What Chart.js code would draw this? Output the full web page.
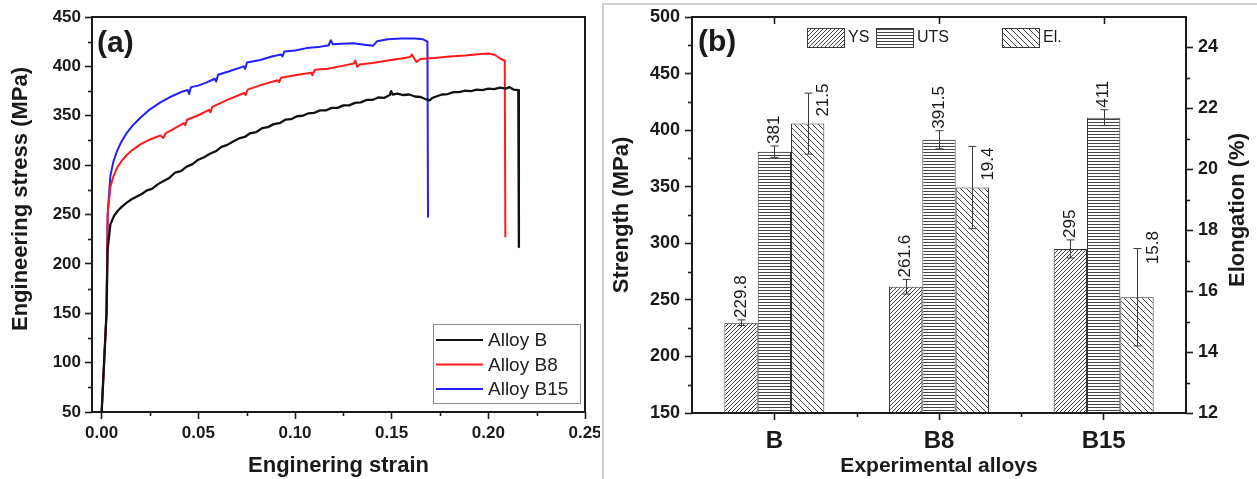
<!DOCTYPE html>
<html lang="en">
<head>
<meta charset="UTF-8">
<title>Tensile behaviour of alloys B, B8 and B15</title>
<script src="https://cdn.jsdelivr.net/npm/chart.js"></script>
<style>
  body { margin: 0; background: #fff; }
  #wrap { position: relative; width: 1257px; height: 479px; overflow: hidden; }
  #curves { position: absolute; left: 0; top: 0; }
  #bars { position: absolute; left: 604px; top: 0; }
  .rule-v { position: absolute; left: 602px; top: 3px; width: 2px; height: 476px; background: #d0d0d0; }
  .rule-h { position: absolute; left: 602px; top: 3px; width: 655px; height: 2px; background: #d0d0d0; }
</style>
</head>
<body>
<div id="wrap">
  <canvas id="curves" width="600" height="479"></canvas>
  <div class="rule-v"></div>
  <div class="rule-h"></div>
  <canvas id="bars" width="653" height="479"></canvas>
</div>
<script>
// (a) engineering stress-strain curves
const curveNames = ['Alloy B', 'Alloy B8', 'Alloy B15'];
const curveColors = ['#111111', '#ff1a1a', '#1f1fff'];

const strainB = [0, 0.0025, 0.0031, 0.0045, 0.0065, 0.0085, 0.0105, 0.013, 0.0155, 0.018, 0.021, 0.0235, 0.026,
  0.029, 0.032, 0.035, 0.038, 0.041, 0.044, 0.047, 0.050, 0.053, 0.056, 0.059, 0.062, 0.065, 0.068, 0.071, 0.074,
  0.077, 0.080, 0.083, 0.086, 0.089, 0.092, 0.095, 0.098, 0.101, 0.104, 0.107, 0.110, 0.113, 0.116, 0.119, 0.122,
  0.125, 0.128, 0.131, 0.134, 0.137, 0.140, 0.143, 0.146, 0.149, 0.1497, 0.1505, 0.153, 0.156, 0.159, 0.162, 0.165,
  0.168, 0.1696, 0.171, 0.173, 0.176, 0.179, 0.182, 0.185, 0.188, 0.191, 0.194, 0.197, 0.200, 0.203, 0.206, 0.209,
  0.211, 0.213, 0.2155, 0.2158];
const stressB = [50, 150, 215, 240, 249, 254, 258, 262, 265.5, 268, 271, 274.5, 276,
  280.5, 284, 287, 292.5, 294, 298.5, 301, 305.5, 308, 311.5, 314, 318.5, 320.5, 324, 327, 328.5,
  332.5, 333.5, 337.5, 338.5, 341.5, 342.5, 346, 346.5, 349.5, 350, 352.5, 353, 355.5, 355.5, 358, 358,
  360.5, 360.5, 363, 363.5, 366, 366, 368.5, 368, 371, 375, 371.5, 372.5, 371, 371.5, 369.5, 369,
  366.5, 365.5, 368, 369.5, 371.5, 372, 374, 374, 375.5, 375, 376.5, 376, 377.5, 377, 378.5, 377.5,
  379, 376.5, 376, 217];

const strainB8 = [0, 0.0025, 0.0031, 0.0045, 0.006, 0.0079, 0.010, 0.0131, 0.016, 0.02, 0.025, 0.0304, 0.0318,
  0.0332, 0.037, 0.0425, 0.0432, 0.0442, 0.050, 0.0555, 0.0562, 0.0572, 0.065, 0.0737, 0.0745, 0.0755, 0.083,
  0.091, 0.0918, 0.0928, 0.100, 0.1085, 0.109, 0.1102, 0.117, 0.1245, 0.1305, 0.1312, 0.1322, 0.1335, 0.140,
  0.148, 0.155, 0.1595, 0.1605, 0.1628, 0.165, 0.172, 0.18, 0.188, 0.196, 0.2005, 0.2035, 0.2065, 0.2085, 0.2088];
const stressB8 = [50, 150, 250, 278, 288, 297, 303.5, 310.5, 315.5, 321, 326, 330, 327.5,
  332.5, 336.5, 342.5, 340.5, 346, 350.5, 356, 353.5, 359, 366, 373, 371, 376.5, 381.5,
  386, 384, 388.5, 391, 393.5, 391, 396.5, 397.5, 400.5, 403, 406, 399.5, 402, 403.5,
  406, 408, 409.5, 412, 404.5, 407.5, 408.5, 410, 411, 412.5, 413, 411.5, 407.5, 406, 227];

const strainB15 = [0, 0.0025, 0.0031, 0.0045, 0.006, 0.0079, 0.010, 0.0131, 0.016, 0.02, 0.025, 0.0304, 0.036,
  0.041, 0.0445, 0.0452, 0.0462, 0.050, 0.054, 0.0585, 0.0592, 0.0602, 0.066, 0.0735, 0.0742, 0.0752, 0.082,
  0.088, 0.0928, 0.0935, 0.0945, 0.100, 0.106, 0.112, 0.1175, 0.1185, 0.1195, 0.124, 0.130, 0.136, 0.1405,
  0.1425, 0.148, 0.155, 0.162, 0.166, 0.1685, 0.1688];
const stressB15 = [50, 150, 250, 289, 303, 314, 323, 333, 340, 348, 356.5, 363.5, 369.5,
  374, 376, 372, 379, 380.5, 383.5, 387.5, 384.5, 391.5, 395, 400, 397.5, 404, 406.5,
  410, 412, 410, 415, 416, 418.5, 419.5, 421.5, 426.5, 422.5, 423, 423.5, 422, 421,
  425.5, 427.5, 428.2, 428.2, 427.5, 425, 247];

const strainTicks = [0, 0.05, 0.10, 0.15, 0.20, 0.25];

// (b) strength and elongation of the experimental alloys
const alloys = ['B', 'B8', 'B15'];
const propertyNames = ['YS', 'UTS', 'El.'];
const ysValues = [229.8, 261.6, 295];
const ysErrors = [2.5, 6.5, 8];
const utsValues = [381, 391.5, 411];
const utsErrors = [5, 8, 7];
const elValues = [21.5, 19.4, 15.8];
const elErrors = [1.0, 1.35, 1.6];
const elongationTicks = [12, 14, 16, 18, 20, 22, 24];

const inkColor = '#1a1a1a';
Chart.defaults.font.family = '"Liberation Sans", Arial, sans-serif';
Chart.defaults.color = inkColor;
Chart.defaults.animation = false;

function toPoints(xs, ys) {
  return xs.map((x, i) => ({ x: x, y: ys[i] }));
}

// white background with thin grey hatch lines
function hatch(dir, gap) {
  const c = document.createElement('canvas');
  c.width = c.height = gap;
  const g = c.getContext('2d');
  g.fillStyle = '#fff';
  g.fillRect(0, 0, gap, gap);
  g.strokeStyle = '#444';
  g.lineWidth = 1;
  g.beginPath();
  if (dir === '-') {
    g.moveTo(0, gap - 0.5); g.lineTo(gap, gap - 0.5);
  } else if (dir === '/') {
    g.moveTo(-1, gap + 1); g.lineTo(gap + 1, -1);
    g.moveTo(-1, 1); g.lineTo(1, -1);
    g.moveTo(gap - 1, gap + 1); g.lineTo(gap + 1, gap - 1);
  } else {
    g.moveTo(-1, -1); g.lineTo(gap + 1, gap + 1);
    g.moveTo(gap - 1, -1); g.lineTo(gap + 1, 1);
    g.moveTo(-1, gap - 1); g.lineTo(1, gap + 1);
  }
  g.stroke();
  return g.createPattern(c, 'repeat');
}

// box around the plot, minor ticks between labelled ticks, optional ticks on the top edge
const frameTicks = {
  id: 'frameTicks',
  afterDraw(chart, args, opts) {
    const { ctx, chartArea: a } = chart;
    ctx.save();
    ctx.strokeStyle = inkColor;
    ctx.lineWidth = 1.6;
    (opts.minor || []).forEach(id => {
      const s = chart.scales[id];
      const t = s.ticks;
      for (let i = 0; i + 1 < t.length; i++) {
        const p = Math.round(s.getPixelForValue((t[i].value + t[i + 1].value) / 2)) + 0.5;
        ctx.beginPath();
        if (s.position === 'left') { ctx.moveTo(a.left, p); ctx.lineTo(a.left - 4, p); }
        else if (s.position === 'right') { ctx.moveTo(a.right, p); ctx.lineTo(a.right + 4, p); }
        else { ctx.moveTo(p, a.bottom); ctx.lineTo(p, a.bottom + 4); }
        ctx.stroke();
      }
    });
    if (opts.topTicks) {
      const s = chart.scales.x;
      s.ticks.forEach(t => {
        const p = Math.round(s.getPixelForValue(t.value)) + 0.5;
        ctx.beginPath(); ctx.moveTo(p, a.top); ctx.lineTo(p, a.top + 7); ctx.stroke();
      });
    }
    ctx.lineWidth = 2;
    ctx.strokeRect(a.left, a.top, a.right - a.left, a.bottom - a.top);
    ctx.restore();
  }
};

// free text: panel letter and rotated titles
const panelText = {
  id: 'panelText',
  afterDraw(chart, args, opts) {
    const { ctx } = chart;
    (opts.items || []).forEach(it => {
      ctx.save();
      ctx.font = it.font;
      ctx.fillStyle = inkColor;
      ctx.textAlign = it.rotate ? 'center' : 'left';
      ctx.textBaseline = 'middle';
      ctx.translate(it.x, it.y);
      if (it.rotate) ctx.rotate(-Math.PI / 2);
      ctx.fillText(it.text, 0, 0);
      ctx.restore();
    });
  }
};

// boxed key with line samples for the curves
const lineKey = {
  id: 'lineKey',
  afterDraw(chart, args, o) {
    const { ctx } = chart;
    ctx.save();
    ctx.strokeStyle = '#8c8c8c';
    ctx.lineWidth = 1;
    ctx.strokeRect(o.x + 0.5, o.y + 0.5, o.w, o.h);
    ctx.font = '19px "Liberation Sans", Arial, sans-serif';
    ctx.textBaseline = 'middle';
    ctx.fillStyle = '#222';
    chart.data.datasets.forEach((ds, i) => {
      const y = o.y + o.first + i * o.step;
      ctx.strokeStyle = ds.borderColor;
      ctx.lineWidth = 2;
      ctx.beginPath(); ctx.moveTo(o.x + 3, y); ctx.lineTo(o.x + 50, y); ctx.stroke();
      ctx.fillText(ds.label, o.x + 55, y + 1);
    });
    ctx.restore();
  }
};

new Chart(document.getElementById('curves'), {
  type: 'scatter',
  data: {
    datasets: [
      { label: curveNames[0], data: toPoints(strainB, stressB), borderColor: curveColors[0], borderWidth: 2.3 },
      { label: curveNames[1], data: toPoints(strainB8, stressB8), borderColor: curveColors[1], borderWidth: 2 },
      { label: curveNames[2], data: toPoints(strainB15, stressB15), borderColor: curveColors[2], borderWidth: 2 }
    ].map(ds => Object.assign(ds, { showLine: true, pointRadius: 0, tension: 0, borderJoinStyle: 'round' }))
  },
  options: {
    responsive: false,
    layout: { padding: { top: 17, right: 15, left: 0, bottom: 0 } },
    plugins: {
      legend: { display: false },
      tooltip: { enabled: false },
      frameTicks: { minor: ['x', 'y'] },
      lineKey: { x: 433, y: 324, w: 147, h: 79, first: 16, step: 24.5 },
      panelText: {
        items: [
          { text: '(a)', x: 97, y: 44, font: 'bold 30px "Liberation Sans", Arial, sans-serif' },
          { text: 'Engineering stress (MPa)', x: 21, y: 199, rotate: true, font: 'bold 22px "Liberation Sans", Arial, sans-serif' }
        ]
      }
    },
    scales: {
      x: {
        type: 'linear',
        min: -0.005,
        max: 0.25,
        afterBuildTicks: s => { s.ticks = strainTicks.map(v => ({ value: v })); },
        afterFit: s => { s.height = 67; s.paddingLeft = 0; s.paddingRight = 0; },
        border: { display: false },
        grid: { drawOnChartArea: false, tickLength: 7, tickColor: inkColor, tickWidth: 1.6 },
        ticks: { font: { size: 17, weight: 'bold' }, padding: 4, maxRotation: 0, callback: v => v.toFixed(2) },
        title: { display: true, text: 'Enginering strain', font: { size: 22, weight: 'bold' }, padding: { top: 0, bottom: 0 } }
      },
      y: {
        min: 50,
        max: 450,
        afterFit: s => { s.width = 92; s.paddingTop = 0; s.paddingBottom = 0; },
        border: { display: false },
        grid: { drawOnChartArea: false, tickLength: 7, tickColor: inkColor, tickWidth: 1.6 },
        ticks: { stepSize: 50, font: { size: 17, weight: 'bold' }, padding: 4 }
      }
    }
  },
  plugins: [frameTicks, lineKey, panelText]
});

// error bars and rotated value labels on the bars
const errorSets = [ysErrors, utsErrors, elErrors];
const barValues = {
  id: 'barValues',
  afterDatasetsDraw(chart, args, o) {
    const { ctx } = chart;
    ctx.save();
    chart.data.datasets.forEach((ds, i) => {
      const meta = chart.getDatasetMeta(i);
      const scale = chart.scales[meta.yAxisID];
      const shift = o.shift[i];
      meta.data.forEach((bar, j) => {
        const v = ds.data[j];
        const e = errorSets[i][j];
        const x = Math.round(bar.x) + 0.5;
        const hi = scale.getPixelForValue(v + e);
        const lo = scale.getPixelForValue(v - e);
        ctx.strokeStyle = '#3a3a3a';
        ctx.lineWidth = 1;
        ctx.beginPath();
        ctx.moveTo(x, hi); ctx.lineTo(x, lo);
        ctx.moveTo(x - 4, hi); ctx.lineTo(x + 4, hi);
        ctx.moveTo(x - 4, lo); ctx.lineTo(x + 4, lo);
        ctx.stroke();

        const lx = shift ? bar.x + shift.dx : bar.x;
        const ly = shift ? bar.y - shift.lift[j] : hi - 2;
        ctx.save();
        ctx.font = '17px "Liberation Sans", Arial, sans-serif';
        ctx.fillStyle = inkColor;
        ctx.textAlign = 'left';
        ctx.textBaseline = 'middle';
        ctx.translate(lx, ly);
        ctx.rotate(-Math.PI / 2);
        ctx.fillText(String(v), 0, 0);
        ctx.restore();
      });
    });
    ctx.restore();
  }
};

// row of hatched swatches across the top of the bar plot
const swatchKey = {
  id: 'swatchKey',
  afterDraw(chart, args, o) {
    const { ctx, chartArea: a } = chart;
    ctx.save();
    ctx.font = '16px "Liberation Sans", Arial, sans-serif';
    ctx.textBaseline = 'middle';
    chart.data.datasets.forEach((ds, i) => {
      const x = a.left + o.offsets[i];
      const y = a.top + o.top;
      ctx.fillStyle = ds.backgroundColor;
      ctx.fillRect(x, y, 37, 19);
      ctx.strokeStyle = '#3a3a3a';
      ctx.lineWidth = 1;
      ctx.strokeRect(x + 0.5, y + 0.5, 37, 19);
      ctx.fillStyle = inkColor;
      ctx.fillText(ds.label, x + 41, y + 10);
    });
    ctx.restore();
  }
};

const barStyle = { borderColor: '#333', borderWidth: 1, categoryPercentage: 0.607, barPercentage: 1 };

new Chart(document.getElementById('bars'), {
  type: 'bar',
  data: {
    labels: alloys,
    datasets: [
      Object.assign({ label: propertyNames[0], data: ysValues, backgroundColor: hatch('/', 4), yAxisID: 'y' }, barStyle),
      Object.assign({ label: propertyNames[1], data: utsValues, backgroundColor: hatch('-', 3), yAxisID: 'y' }, barStyle),
      Object.assign({ label: propertyNames[2], data: elValues, backgroundColor: hatch('\\', 6), yAxisID: 'y1' }, barStyle)
    ]
  },
  options: {
    responsive: false,
    layout: { padding: { top: 17, right: 0, left: 0, bottom: 0 } },
    plugins: {
      legend: { display: false },
      tooltip: { enabled: false },
      frameTicks: { minor: ['x', 'y', 'y1'], topTicks: true },
      barValues: { shift: [null, null, { dx: 16, lift: [7, 7, 33] }] },
      swatchKey: { offsets: [115, 184, 310], top: 11 },
      panelText: {
        items: [
          { text: '(b)', x: 94, y: 43, font: 'bold 30px "Liberation Sans", Arial, sans-serif' },
          { text: 'Elongation (%)', x: 634, y: 210, rotate: true, font: 'bold 22px "Liberation Sans", Arial, sans-serif' }
        ]
      }
    },
    scales: {
      x: {
        type: 'category',
        offset: true,
        afterFit: s => { s.height = 66; s.paddingLeft = 0; s.paddingRight = 0; },
        border: { display: false },
        grid: { offset: false, drawOnChartArea: false, tickLength: 7, tickColor: inkColor, tickWidth: 1.6 },
        ticks: { font: { size: 24, weight: 'bold' }, padding: 7, maxRotation: 0 },
        title: { display: true, text: 'Experimental alloys', font: { size: 21, weight: 'bold' }, padding: { top: 0, bottom: 0 } }
      },
      y: {
        position: 'left',
        min: 150,
        max: 500,
        afterFit: s => { s.width = 88; s.paddingTop = 0; s.paddingBottom = 0; },
        border: { display: false },
        grid: { drawOnChartArea: false, tickLength: 7, tickColor: inkColor, tickWidth: 1.6 },
        ticks: { stepSize: 50, font: { size: 18, weight: 'bold' }, padding: 5 },
        title: { display: true, text: 'Strength (MPa)', font: { size: 22, weight: 'bold' }, padding: { top: 5, bottom: 0 } }
      },
      y1: {
        position: 'right',
        min: 12,
        max: 25,
        afterBuildTicks: s => { s.ticks = elongationTicks.map(v => ({ value: v })); },
        afterFit: s => { s.width = 71; s.paddingTop = 0; s.paddingBottom = 0; },
        border: { display: false },
        grid: { drawOnChartArea: false, tickLength: 7, tickColor: inkColor, tickWidth: 1.6 },
        ticks: { font: { size: 18, weight: 'bold' }, padding: 5 }
      }
    }
  },
  plugins: [frameTicks, barValues, swatchKey, panelText]
});
</script>
</body>
</html>
